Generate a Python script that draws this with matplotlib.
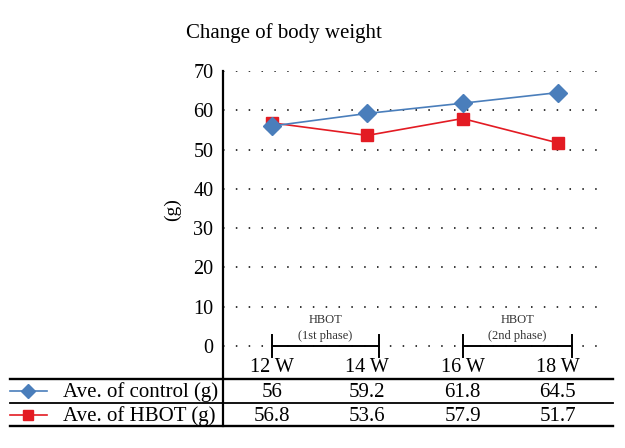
"""Change of body weight: control vs HBOT, line chart with data table below."""
import matplotlib
matplotlib.use("Agg")
import matplotlib.pyplot as plt
from matplotlib.lines import Line2D
from matplotlib.transforms import blended_transform_factory

# --- data ---------------------------------------------------------------------
weeks = ["12 W", "14 W", "16 W", "18 W"]
control = [56, 59.2, 61.8, 64.5]
hbot = [56.8, 53.6, 57.9, 51.7]
control_label = "Ave. of control (g)"
hbot_label = "Ave. of HBOT (g)"
phases = [("HBOT", "(1st phase)"), ("HBOT", "(2nd phase)")]
yticks = list(range(0, 71, 10))

BLUE = "#4A7EBB"
RED = "#E31B23"
W, H = 625, 448

plt.rcParams["font.family"] = ["Liberation Serif", "DejaVu Serif"]

fig = plt.figure(figsize=(W / 100, H / 100), dpi=100)


def fx(px):
    return px / W


def fy(py):
    return 1 - py / H


# axes box in pixels: spine x=223, y=70 at 71 px, bottom of table 426 px
ax = fig.add_axes([fx(223), fy(426), fx(600) - fx(223), fy(71) - fy(426)])
x = list(range(len(weeks)))
ax.set_xlim(-0.514, 3.442)
ax.set_ylim(-20.36, 70)

for s in ("top", "right", "bottom"):
    ax.spines[s].set_visible(False)
ax.spines["left"].set_linewidth(1.6)
ax.set_xticks([])
ax.set_yticks(yticks)
ax.set_yticklabels([str(v) for v in yticks], fontsize=14.5)
ax.tick_params(axis="y", length=0, pad=7)
ax.grid(axis="y", color="black", linestyle=(0, (1, 7.4)), linewidth=1.1)

ax.plot(x, control, color=BLUE, lw=1.2, marker="D", ms=9, mfc=BLUE, mec=BLUE, zorder=3)
ax.plot(x, hbot, color=RED, lw=1.2, marker="s", ms=8, mfc=RED, mec=RED, zorder=2)

fig.text(fx(172), fy(210), "(g)", rotation=90, fontsize=14, ha="center", va="center")
fig.text(fx(284), fy(33), "Change of body weight", fontsize=15, ha="center", va="center")

# treatment phase brackets on the zero line
spans = [(0, 1.12), (2.0, 3.15)]
for (a, b), (top, sub) in zip(spans, phases):
    ax.plot([a, b], [0, 0], color="black", lw=1.4, zorder=4)
    for e in (a, b):
        ax.plot([e, e], [2.7, -2.8], color="black", lw=1.4, zorder=4)
    mid = (a + b) / 2
    ax.text(mid, 6.6, top, fontsize=9, ha="center", va="center", color="#333333")
    ax.text(mid, 2.5, sub, fontsize=9, ha="center", va="center", color="#333333")

# week labels and data table
bt = blended_transform_factory(ax.transData, fig.transFigure)
for xi, wk, c, h in zip(x, weeks, control, hbot):
    ax.text(xi, fy(368), wk, transform=bt, fontsize=14.5, ha="center", va="center")
    ax.text(xi, fy(392), f"{c:g}", transform=bt, fontsize=15, ha="center", va="center")
    ax.text(xi, fy(416), f"{h:g}", transform=bt, fontsize=15, ha="center", va="center")

for py, lw in ((379, 1.7), (403, 1.3), (426, 1.7)):
    fig.add_artist(Line2D([fx(10), fx(613)], [fy(py), fy(py)], color="black", lw=lw))

for py, col, mk, label in ((391, BLUE, "D", control_label), (415, RED, "s", hbot_label)):
    fig.add_artist(Line2D([fx(10), fx(47)], [fy(py), fy(py)], color=col, lw=1.2))
    fig.add_artist(Line2D([fx(28)], [fy(py)], color=col, marker=mk, ms=7.5 if mk == "D" else 7,
                          mfc=col, mec=col))
    fig.text(fx(63), fy(py + 1), label, fontsize=15, ha="left", va="center")

fig.savefig("out.png", dpi=100)
